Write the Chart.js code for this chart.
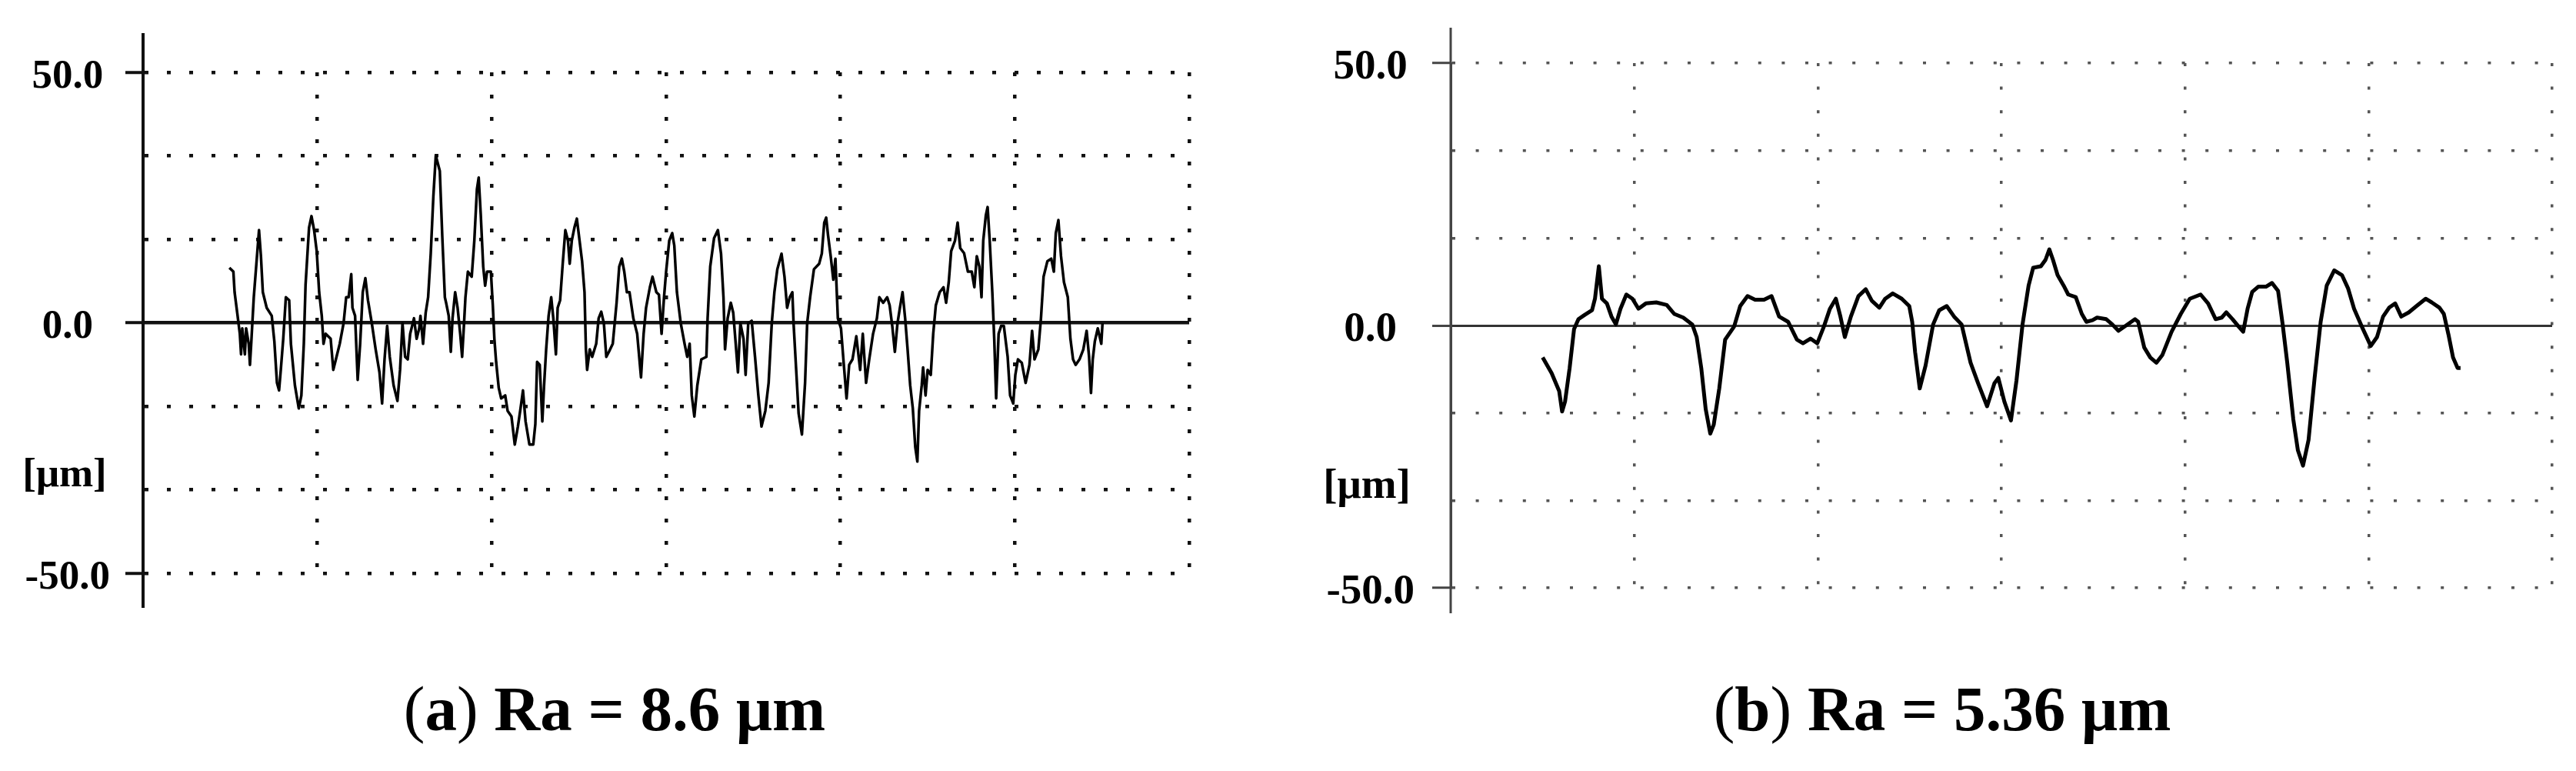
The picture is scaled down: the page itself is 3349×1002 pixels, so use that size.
<!DOCTYPE html>
<html>
<head>
<meta charset="utf-8">
<script src="https://cdn.jsdelivr.net/npm/chart.js@4.4.1/dist/chart.umd.min.js"></script>
<style>
  html, body { margin: 0; padding: 0; background: #fff; }
  body { width: 3349px; height: 1002px; position: relative; overflow: hidden; font-family: "Liberation Serif", serif; }
  canvas { position: absolute; top: 0; }
  #chartA { left: 0; }
  #chartB { left: 1650px; }
  .unit { position: absolute; font-weight: bold; text-align: center; color: #000; white-space: nowrap; }
  .caption { position: absolute; top: 880px; font-size: 83px; line-height: 83px; font-weight: bold; text-align: center; white-space: nowrap; color: #000; }
  .caption span { font-weight: normal; }
</style>
</head>
<body>
<canvas id="chartA" width="1600" height="810"></canvas>
<canvas id="chartB" width="1699" height="820"></canvas>
<div class="unit" style="left:24px;width:120px;top:588px;font-size:53px;line-height:53px;">[μm]</div>
<div class="unit" style="left:1717px;width:120px;top:601px;font-size:55px;line-height:55px;">[μm]</div>
<div class="caption" style="left:474px;width:650px;"><span>(</span>a<span>)</span> Ra = 8.6 μm</div>
<div class="caption" style="left:2175px;width:700px;"><span>(</span>b<span>)</span> Ra = 5.36 μm</div>
<script>
// profile (a): position along the trace (grid divisions) and height in µm
const xa = [
  0.495, 0.518, 0.525, 0.540, 0.555, 0.562, 0.569, 0.584, 0.591, 0.606, 0.613, 0.621, 0.635, 0.650, 0.665, 0.676,
  0.687, 0.709, 0.738, 0.753, 0.768, 0.780, 0.790, 0.804, 0.819, 0.838, 0.848, 0.871, 0.893, 0.908, 0.922, 0.932,
  0.952, 0.966, 0.981, 0.996, 1.010, 1.025, 1.035, 1.047, 1.076, 1.091, 1.106, 1.128, 1.150, 1.165, 1.179, 1.194,
  1.201, 1.216, 1.231, 1.245, 1.260, 1.275, 1.290, 1.312, 1.334, 1.356, 1.371, 1.385, 1.400, 1.415, 1.437, 1.459,
  1.474, 1.488, 1.503, 1.518, 1.532, 1.554, 1.569, 1.584, 1.591, 1.606, 1.621, 1.635, 1.650, 1.665, 1.679, 1.702,
  1.716, 1.731, 1.738, 1.753, 1.765, 1.775, 1.790, 1.804, 1.819, 1.830, 1.841, 1.849, 1.863, 1.885, 1.900, 1.915,
  1.925, 1.937, 1.951, 1.962, 1.973, 1.995, 2.006, 2.015, 2.025, 2.040, 2.054, 2.077, 2.091, 2.113, 2.132, 2.150,
  2.165, 2.179, 2.194, 2.216, 2.238, 2.250, 2.260, 2.275, 2.290, 2.300, 2.312, 2.326, 2.341, 2.353, 2.368, 2.378,
  2.392, 2.407, 2.422, 2.437, 2.447, 2.459, 2.474, 2.488, 2.500, 2.518, 2.532, 2.540, 2.547, 2.562, 2.576, 2.599,
  2.613, 2.628, 2.643, 2.657, 2.672, 2.694, 2.716, 2.731, 2.746, 2.760, 2.775, 2.790, 2.812, 2.834, 2.856, 2.871,
  2.885, 2.907, 2.922, 2.944, 2.959, 2.974, 2.988, 3.000, 3.018, 3.035, 3.047, 3.062, 3.084, 3.106, 3.121, 3.135,
  3.147, 3.162, 3.179, 3.202, 3.231, 3.238, 3.253, 3.275, 3.297, 3.315, 3.329, 3.338, 3.353, 3.371, 3.385, 3.397,
  3.412, 3.426, 3.444, 3.456, 3.471, 3.491, 3.510, 3.529, 3.547, 3.569, 3.588, 3.606, 3.621, 3.638, 3.662, 3.679,
  3.694, 3.709, 3.724, 3.731, 3.746, 3.760, 3.779, 3.797, 3.809, 3.826, 3.848, 3.878, 3.893, 3.907, 3.918, 3.929,
  3.944, 3.959, 3.971, 3.985, 4.003, 4.018, 4.035, 4.050, 4.069, 4.091, 4.113, 4.128, 4.147, 4.165, 4.187, 4.209,
  4.223, 4.245, 4.268, 4.282, 4.297, 4.312, 4.327, 4.341, 4.356, 4.371, 4.385, 4.400, 4.415, 4.429, 4.441, 4.451,
  4.466, 4.474, 4.488, 4.500, 4.518, 4.532, 4.547, 4.569, 4.591, 4.606, 4.621, 4.635, 4.657, 4.672, 4.687, 4.709,
  4.731, 4.753, 4.768, 4.782, 4.797, 4.809, 4.819, 4.834, 4.844, 4.856, 4.871, 4.882, 4.893, 4.907, 4.922, 4.937,
  4.959, 4.973, 4.991, 5.003, 5.018, 5.040, 5.062, 5.084, 5.099, 5.113, 5.135, 5.150, 5.165, 5.187, 5.209, 5.224,
  5.235, 5.250, 5.265, 5.282, 5.304, 5.319, 5.334, 5.349, 5.371, 5.393, 5.412, 5.426, 5.437, 5.447, 5.459, 5.476,
  5.496, 5.503
];
const ya = [
  11.0, 10.2, 6.1, 2.0, -2.2, -6.3, -1.1, -6.3, -1.1, -4.2, -8.4, -3.7, 5.1, 11.8, 18.5, 13.3,
  6.1, 3.0, 1.4, -3.7, -12.0, -13.5, -9.4, -3.2, 5.1, 4.5, -4.2, -12.5, -17.1, -14.5, -4.2, 7.6,
  19.0, 21.3, 18.5, 14.3, 6.1, 1.4, -4.2, -2.2, -3.2, -9.4, -7.3, -4.2, -0.1, 5.1, 5.1, 9.7,
  3.0, 1.4, -11.4, -4.2, 6.1, 8.9, 4.5, -0.1, -5.3, -9.9, -16.1, -7.3, -0.6, -6.8, -12.5, -15.6,
  -9.4, -0.1, -6.8, -7.3, -2.2, 0.9, -3.2, -1.1, 1.4, -4.2, 2.0, 5.1, 13.8, 25.2, 33.4, 30.3,
  17.4, 5.1, 4.0, 1.4, -5.8, 0.9, 6.1, 3.0, -2.2, -6.8, -0.1, 5.1, 10.2, 9.2, 16.4, 26.7,
  29.0, 21.5, 11.2, 7.4, 10.2, 10.2, 3.5, -3.2, -7.8, -13.0, -15.1, -14.5, -17.6, -18.7, -24.3, -20.7,
  -17.1, -13.5, -19.7, -24.3, -24.3, -20.2, -7.8, -8.4, -19.7, -12.5, -5.3, 1.4, 5.1, 0.9, -6.3, 3.0,
  4.5, 11.8, 18.5, 16.4, 11.8, 16.4, 19.0, 20.8, 17.4, 12.3, 6.1, -5.3, -9.4, -5.3, -6.8, -4.2,
  0.9, 2.2, -0.1, -6.8, -5.8, -4.2, 4.0, 11.2, 12.8, 10.2, 6.1, 6.1, 0.9, -2.2, -10.9, -2.2,
  3.0, 7.1, 9.2, 6.1, 5.6, -2.2, 5.1, 10.2, 16.4, 17.9, 15.4, 6.1, -0.1, -4.2, -6.8, -4.2,
  -14.5, -18.7, -12.5, -7.3, -6.8, 0.9, 11.2, 16.9, 18.5, 13.8, 5.1, -5.3, 0.9, 4.0, 2.0, -3.2,
  -9.9, -0.1, -3.2, -10.4, -0.1, 0.4, -6.8, -14.5, -20.7, -17.6, -12.0, -0.1, 6.1, 10.7, 13.8, 9.2,
  3.0, 5.1, 6.1, -0.1, -9.4, -18.1, -22.3, -12.0, -0.1, 5.1, 10.7, 11.8, 13.8, 20.0, 21.0, 17.4,
  13.3, 8.6, 12.8, 0.9, -1.1, -7.8, -15.1, -8.4, -7.3, -2.7, -9.4, -2.2, -12.0, -7.3, -2.2, 0.9,
  5.1, 4.0, 5.1, 3.5, -0.6, -5.8, -0.1, 3.0, 6.1, 0.9, -5.3, -12.5, -17.1, -24.8, -27.7, -17.6,
  -12.5, -8.9, -14.5, -9.4, -10.4, -2.2, 3.5, 6.1, 7.1, 4.0, 8.1, 14.3, 16.4, 20.0, 14.9, 13.9,
  10.2, 10.2, 7.1, 13.3, 11.2, 5.1, 16.4, 21.5, 23.1, 16.4, 6.1, -3.2, -15.1, -2.2, -0.6, -0.6,
  -6.8, -14.5, -16.1, -10.4, -7.3, -8.0, -12.0, -8.4, -1.6, -7.3, -5.3, 0.9, 9.2, 12.3, 12.8, 10.2,
  17.9, 20.5, 13.3, 8.1, 5.1, -3.2, -7.3, -8.4, -7.3, -5.3, -1.6, -6.8, -14.0, -7.3, -3.7, -1.1,
  -4.2, -0.1
];

// profile (b)
const xb = [
  0.501, 0.550, 0.591, 0.607, 0.623, 0.648, 0.672, 0.696, 0.729, 0.770, 0.786, 0.807, 0.824, 0.851, 0.876, 0.900,
  0.925, 0.957, 0.990, 1.023, 1.063, 1.120, 1.177, 1.218, 1.267, 1.316, 1.340, 1.365, 1.389, 1.414, 1.433, 1.463,
  1.495, 1.544, 1.577, 1.617, 1.658, 1.707, 1.748, 1.789, 1.838, 1.886, 1.919, 1.960, 1.997, 2.033, 2.066, 2.098,
  2.123, 2.147, 2.180, 2.221, 2.261, 2.294, 2.335, 2.367, 2.408, 2.457, 2.498, 2.514, 2.530, 2.555, 2.587, 2.628,
  2.661, 2.702, 2.742, 2.783, 2.832, 2.873, 2.922, 2.962, 2.983, 3.016, 3.052, 3.082, 3.115, 3.148, 3.173, 3.215,
  3.240, 3.261, 3.281, 3.306, 3.339, 3.364, 3.405, 3.438, 3.463, 3.496, 3.521, 3.571, 3.604, 3.637, 3.679, 3.728,
  3.745, 3.778, 3.811, 3.844, 3.877, 3.927, 3.977, 4.026, 4.085, 4.126, 4.167, 4.200, 4.225, 4.259, 4.292, 4.317,
  4.341, 4.366, 4.399, 4.441, 4.474, 4.507, 4.532, 4.557, 4.590, 4.615, 4.643, 4.673, 4.706, 4.739, 4.772, 4.813,
  4.855, 4.888, 4.921, 4.963, 5.012, 5.046, 5.079, 5.112, 5.145, 5.178, 5.219, 5.261, 5.311, 5.344, 5.386, 5.410,
  5.435, 5.460, 5.485, 5.501
];
const yb = [
  -6.1, -9.1, -12.5, -16.4, -14.5, -8.1, -0.7, 1.2, 2.0, 2.9, 5.1, 11.3, 5.1, 4.2, 1.7, 0.2,
  3.2, 5.9, 5.1, 3.2, 4.2, 4.4, 3.9, 2.2, 1.5, 0.2, -2.2, -8.1, -15.9, -20.6, -18.9, -12.0,
  -2.7, -0.2, 3.7, 5.6, 4.9, 4.9, 5.6, 1.7, 0.7, -2.7, -3.4, -2.5, -3.4, -0.2, 3.2, 5.1,
  1.7, -2.2, 1.7, 5.6, 6.9, 4.7, 3.4, 5.1, 6.1, 5.1, 3.7, 0.7, -5.1, -12.0, -7.6, 0.2,
  2.9, 3.7, 1.7, 0.2, -7.1, -11.0, -15.4, -11.0, -10.0, -14.5, -18.1, -10.5, 0.2, 7.6, 11.0, 11.3,
  12.5, 14.5, 12.5, 9.6, 7.6, 5.9, 5.4, 2.2, 0.7, 1.0, 1.5, 1.2, 0.2, -1.0, 0.0, 1.2,
  0.7, -4.2, -6.1, -7.1, -5.6, -1.2, 2.2, 5.1, 5.9, 4.2, 1.2, 1.5, 2.5, 1.2, -0.2, -1.2,
  3.2, 6.4, 7.4, 7.4, 8.1, 6.6, 0.2, -7.1, -17.9, -23.8, -26.7, -21.8, -10.0, 0.7, 7.6, 10.5,
  9.6, 7.1, 3.2, -0.2, -3.9, -2.2, 1.7, 3.4, 4.2, 1.7, 2.5, 3.7, 5.1, 4.4, 3.4, 2.2,
  -1.7, -6.1, -8.1, -8.1
];

const xGrid = [0, 1, 2, 3, 4, 5, 6];
const yGrid = [-50, -33.33, -16.67, 0, 16.67, 33.33, 50];
const yTickValues = [50, 0, -50];
const yTickLabels = ['50.0', '0.0', '-50.0'];

// the vertical axis line runs a little past the +-50 range
const axisStub = {
  id: 'axisStub',
  afterDraw(chart, args, opts) {
    const { ctx, chartArea } = chart;
    ctx.save();
    ctx.strokeStyle = opts.color;
    ctx.lineWidth = opts.width;
    ctx.beginPath();
    ctx.moveTo(chartArea.left, chartArea.top - opts.above);
    ctx.lineTo(chartArea.left, chartArea.bottom + opts.below);
    ctx.stroke();
    ctx.restore();
  }
};

const isZero = c => c.tick && c.tick.value === 0;

function profileChart(id, xs, ys, s) {
  const ctx = document.getElementById(id).getContext('2d');
  return new Chart(ctx, {
    type: 'line',
    data: {
      datasets: [{
        data: xs.map((x, i) => ({ x: x, y: ys[i] })),
        borderColor: '#000',
        borderWidth: s.lineWidth,
        borderJoinStyle: 'round',
        pointRadius: 0,
        tension: 0
      }]
    },
    options: {
      responsive: false,
      animation: false,
      devicePixelRatio: 1,
      layout: { padding: s.padding },
      plugins: {
        legend: { display: false },
        tooltip: { enabled: false },
        axisStub: s.stub
      },
      scales: {
        x: {
          type: 'linear',
          min: 0,
          max: 6,
          afterBuildTicks: sc => { sc.ticks = xGrid.map(v => ({ value: v })); },
          afterFit: sc => { sc.height = 0; },
          ticks: { display: false },
          border: { display: false, dash: s.dash },
          grid: {
            color: c => isZero(c) ? 'rgba(0,0,0,0)' : s.gridColor,
            lineWidth: s.gridWidth,
            drawTicks: false
          }
        },
        y: {
          type: 'linear',
          min: -50,
          max: 50,
          afterBuildTicks: sc => { sc.ticks = yGrid.map(v => ({ value: v })); },
          afterFit: sc => { sc.width = s.axisBox; },
          ticks: {
            callback: v => {
              const k = yTickValues.indexOf(v);
              return k < 0 ? '' : yTickLabels[k];
            },
            font: { family: 'Liberation Serif', size: s.fontSize, weight: 'bold' },
            color: '#000',
            padding: s.labelPad,
            crossAlign: 'center',
            labelOffset: 6
          },
          border: {
            display: true,
            color: s.axisColor,
            width: s.axisWidth,
            dash: c => isZero(c) ? [] : s.dash
          },
          grid: {
            color: c => isZero(c) ? s.zeroColor : s.gridColor,
            lineWidth: c => isZero(c) ? s.zeroWidth : s.gridWidth,
            tickLength: s.tickLen,
            tickWidth: s.tickWidth,
            tickColor: c => (c.tick && yTickValues.includes(c.tick.value)) ? s.axisColor : 'rgba(0,0,0,0)'
          }
        }
      }
    },
    plugins: [axisStub]
  });
}

profileChart('chartA', xa, ya, {
  lineWidth: 3.5,
  padding: { top: 94, right: 54, bottom: 65, left: 0 },
  axisBox: 186,
  fontSize: 53,
  labelPad: 20,
  tickLen: 23,
  tickWidth: 4,
  axisColor: '#111',
  axisWidth: 4,
  zeroColor: '#111',
  zeroWidth: 4.5,
  gridColor: '#111',
  gridWidth: 4.5,
  dash: [5, 24],
  stub: { above: 51, below: 45, color: '#111', width: 4 }
});

profileChart('chartB', xb, yb, {
  lineWidth: 5,
  padding: { top: 82, right: 31, bottom: 54, left: 0 },
  axisBox: 236,
  fontSize: 55,
  labelPad: 23,
  tickLen: 24,
  tickWidth: 3,
  axisColor: '#444',
  axisWidth: 3,
  zeroColor: '#333',
  zeroWidth: 3,
  gridColor: '#555',
  gridWidth: 3.5,
  dash: [4, 26.6],
  stub: { above: 46, below: 33, color: '#444', width: 3 }
});
</script>
</body>
</html>
